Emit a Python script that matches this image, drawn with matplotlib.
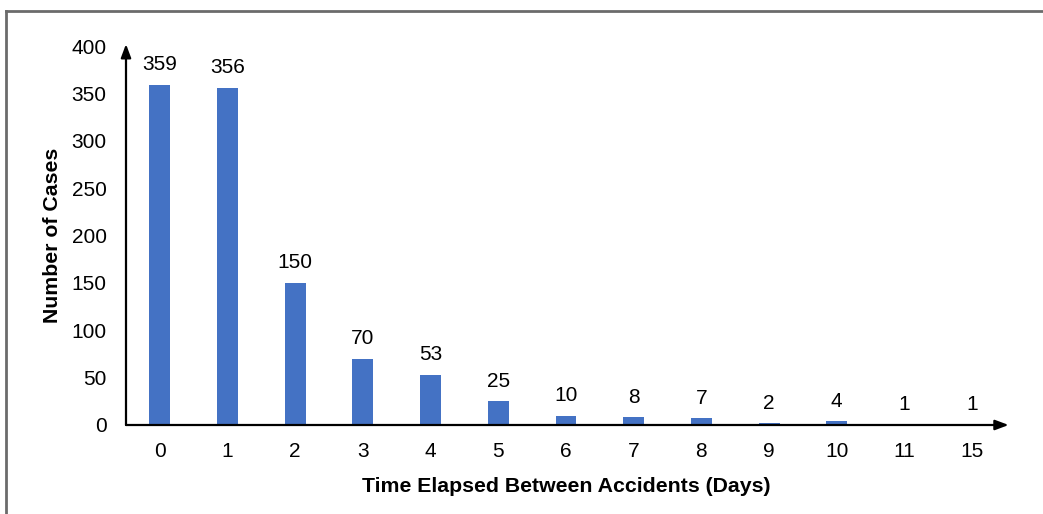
import matplotlib
matplotlib.use("Agg")
import matplotlib.pyplot as plt
from matplotlib.lines import Line2D

categories = ["0", "1", "2", "3", "4", "5", "6", "7", "8", "9", "10", "11", "15"]
cases = [359, 356, 150, 70, 53, 25, 10, 8, 7, 2, 4, 1, 1]
y_ticks = [0, 50, 100, 150, 200, 250, 300, 350, 400]

plt.rcParams['font.family'] = ['Liberation Sans', 'DejaVu Sans']

W, H = 1043, 514
fig = plt.figure(figsize=(W / 100, H / 100), dpi=100)
ax = fig.add_axes([126 / W, 1 - 425 / H, (1006 - 126) / W, (425 - 46) / H])

x = list(range(len(categories)))
bars = ax.bar(x, cases, width=0.31, color="#4472C4", zorder=2)
for xi, v in zip(x, cases):
    ax.annotate(str(v), (xi, v), xytext=(0, 7.5), textcoords="offset points",
                ha="center", va="bottom", fontsize=15, color="#000000")

ax.set_xlim(-0.5, len(categories) - 0.5)
ax.set_ylim(0, 400)
ax.set_xticks(x)
ax.set_xticklabels(categories)
ax.set_yticks(y_ticks)
ax.tick_params(axis="both", length=0, labelsize=15, colors="#000000")
ax.tick_params(axis="x", pad=12.5)
ax.tick_params(axis="y", pad=14)
for s in ax.spines.values():
    s.set_visible(False)

# arrow axes
ax.annotate("", xy=(1.003, 0), xytext=(0, 0), xycoords="axes fraction",
            arrowprops=dict(arrowstyle="-|>,head_length=0.8,head_width=0.3", color="black", lw=1.6, shrinkA=0, shrinkB=0))
ax.annotate("", xy=(0, 1.005), xytext=(0, 0), xycoords="axes fraction",
            arrowprops=dict(arrowstyle="-|>,head_length=0.8,head_width=0.3", color="black", lw=1.6, shrinkA=0, shrinkB=0))

ax.set_xlabel("Time Elapsed Between Accidents (Days)", fontsize=15.3, fontweight="bold", labelpad=11)
ax.set_ylabel("Number of Cases", fontsize=15.3, fontweight="bold", labelpad=7)

# gray frame (left and top edges)
fig.add_artist(Line2D([6 / W, 6 / W], [0, 1 - 11 / H], transform=fig.transFigure, color="#6b6b6b", lw=2))
fig.add_artist(Line2D([6 / W, 1], [1 - 11 / H, 1 - 11 / H], transform=fig.transFigure, color="#6b6b6b", lw=2))

fig.savefig("out.png", dpi=100)
